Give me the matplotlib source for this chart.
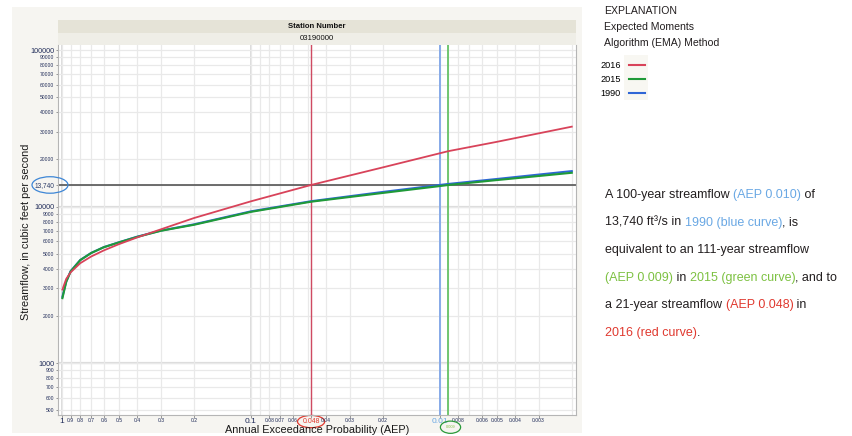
import matplotlib
matplotlib.use("Agg")
import matplotlib.pyplot as plt
from matplotlib.patches import Rectangle, Ellipse
from matplotlib.lines import Line2D
from matplotlib.transforms import IdentityTransform

# ---------------- data ----------------
aep = [0.995, 0.95, 0.9, 0.8, 0.7, 0.6, 0.5, 0.4, 0.3, 0.2, 0.1, 0.048, 0.02, 0.01, 0.009, 0.005, 0.002]
q_2016 = [2950, 3450, 3800, 4350, 4800, 5250, 5750, 6350, 7150, 8450, 10800, 13740, 17800, 21900, 22600, 25900, 32400]
q_2015 = [2600, 3300, 3850, 4550, 5050, 5500, 5900, 6400, 7000, 7650, 9250, 10740, 12220, 13520, 13740, 14760, 16440]
q_1990 = [2650, 3320, 3870, 4560, 5060, 5510, 5910, 6420, 7020, 7700, 9320, 10820, 12400, 13740, 13950, 15000, 16850]

q100 = 13740
aep_marks = {"2016": 0.048, "1990": 0.010, "2015": 0.009}

series_names = ["2016", "2015", "1990"]

y_ticks = [500, 600, 700, 800, 900, 1000, 2000, 3000, 4000, 5000, 6000, 7000, 8000, 9000,
           10000, 13740, 20000, 30000, 40000, 50000, 60000, 70000, 80000, 90000, 100000]
y_labels = ["500", "600", "700", "800", "900", "1000", "2000", "3000", "4000", "5000", "6000",
            "7000", "8000", "9000", "10000", "13,740", "20000", "30000", "40000", "50000", "60000",
            "70000", "80000", "90000", "100000"]
y_big = ["1000", "10000", "100000"]

x_ticks = [1, 0.9, 0.8, 0.7, 0.6, 0.5, 0.4, 0.3, 0.2, 0.1, 0.08, 0.07, 0.06, 0.048, 0.04,
           0.03, 0.02, 0.01, 0.008, 0.006, 0.005, 0.004, 0.003]
x_labels = ["1", "0.9", "0.8", "0.7", "0.6", "0.5", "0.4", "0.3", "0.2", "0.1", "0.08", "0.07",
            "0.06", "0.048", "0.04", "0.03", "0.02", "0.01", "0.008", "0.006", "0.005", "0.004", "0.003"]
x_minor_grid = [0.09, 0.05, 0.009, 0.007, 0.002]

# ---------------- style ----------------
W, H = 852, 436
RED, GREEN, BLUE = "#d8435a", "#1f9a38", "#2f66d6"
RED_V, BLUE_V, GREEN_V = "#cf4a62", "#7fa6ea", "#66c266"
TXT_BLUE, TXT_GREEN, TXT_RED, TXT_K = "#6aa8e4", "#7dc142", "#e0392f", "#231f20"
NAVY = "#1f2b58"
FONT = ["Liberation Sans", "DejaVu Sans"]

plt.rcParams["font.family"] = FONT

fig = plt.figure(figsize=(W / 100, H / 100), dpi=100)
fig.patch.set_facecolor("white")


def fx(px):
    return px / W


def fy(py):
    return 1 - py / H


# gray panel behind the chart
fig.patches.append(Rectangle((fx(12), fy(433)), fx(582) - fx(12), fy(7) - fy(433),
                             transform=fig.transFigure, fc="#f6f5f1", ec="none", zorder=-10))
# header bands
L, R, T, B = 58, 576, 45, 415
fig.patches.append(Rectangle((fx(L), fy(33)), fx(R) - fx(L), fy(20) - fy(33),
                             transform=fig.transFigure, fc="#e5e3d7", ec="none", zorder=-5))
fig.patches.append(Rectangle((fx(L), fy(T)), fx(R) - fx(L), fy(33) - fy(T),
                             transform=fig.transFigure, fc="#efeee7", ec="none", zorder=-5))
fig.text(fx(317), fy(26.5), "Station Number", ha="center", va="center", fontsize=5.6,
         fontweight="bold", color="#111111")
fig.text(fx(317), fy(39), "03190000", ha="center", va="center", fontsize=5.6, color="#111111")

ax = fig.add_axes([fx(L), fy(B), fx(R) - fx(L), fy(T) - fy(B)])
ax.set_zorder(1)
ax.set_facecolor("white")
ax.set_xscale("log")
ax.set_yscale("log")
ax.set_xlim(1.05, 0.0019)
ax.set_ylim(466, 107700)

# grid
ax.set_xticks(x_ticks, x_labels)
ax.set_xticks(x_minor_grid, minor=True)
ax.set_yticks(y_ticks, y_labels)
ax.set_yticks([], minor=True)
ax.xaxis.set_minor_formatter(matplotlib.ticker.NullFormatter())
ax.grid(True, which="major", color="#e9e9e9", lw=0.9, zorder=0)
ax.grid(True, which="minor", axis="x", color="#e9e9e9", lw=0.9, zorder=0)
for v in [1, 0.1, 0.01]:
    ax.axvline(v, color="#dcdcdc", lw=1.4, zorder=0.5)
for v in [1000, 10000]:
    ax.axhline(v, color="#dcdcdc", lw=1.6, zorder=0.5)

ax.tick_params(axis="both", which="both", length=1.8, width=0.6, color="#888888",
               labelcolor=NAVY, pad=1.0)
ax.tick_params(axis="x", which="major", pad=0.4)
ax.tick_params(axis="x", which="minor", length=0)
for sp in ax.spines.values():
    sp.set_color("#b5b5b5")
    sp.set_linewidth(0.8)
ax.spines["top"].set_visible(False)

for lab in ax.get_yticklabels():
    if lab.get_text() in y_big:
        lab.set_fontsize(5.2)
    else:
        lab.set_fontsize(3.6)
    if lab.get_text() == "13,740":
        lab.set_fontsize(4.7)
        lab.set_color("#2b3a66")

for lab in ax.get_xticklabels():
    t = lab.get_text()
    if t in ("1", "0.1"):
        lab.set_fontsize(6.0)
    elif t == "0.01":
        lab.set_fontsize(6.0)
        lab.set_color(TXT_BLUE)
    elif t == "0.048":
        lab.set_fontsize(5.0)
        lab.set_color(TXT_RED)
        lab.set_bbox(dict(boxstyle="ellipse,pad=0.12", fc="none", ec=TXT_RED, lw=0.9))
    else:
        lab.set_fontsize(3.6)

# blue ellipse around the 13,740 tick label (straddles the axis as in the original)
px_y = ax.transData.transform((1.0, q100))[1]
px_l = ax.transAxes.transform((0, 0))[0]
fig.patches.append(Ellipse((px_l - 8, px_y), 36, 16.5, transform=IdentityTransform(),
                           fc="none", ec="#3d86d6", lw=0.9, zorder=5))

# green 0.009 label below the axis
ax.annotate("0.009", xy=(aep_marks["2015"], 0), xycoords=("data", "axes fraction"),
            xytext=(1.5, -8.8), textcoords="offset points", ha="center", va="center",
            fontsize=2.8, color=TXT_GREEN,
            bbox=dict(boxstyle="ellipse,pad=0.6", fc="none", ec="#2a9a3a", lw=0.9),
            annotation_clip=False)

# vertical marker lines and the 100-year flow line
ax.axvline(aep_marks["2016"], color=RED_V, lw=1.0, zorder=2)
ax.axvline(aep_marks["1990"], color=BLUE_V, lw=1.3, zorder=2)
ax.axvline(aep_marks["2015"], color=GREEN_V, lw=1.3, zorder=2)
ax.axhline(q100, color="#555555", lw=1.2, zorder=2)

# curves
l1990, = ax.plot(aep, q_1990, color=BLUE, lw=1.5, zorder=3, label="1990")
l2015, = ax.plot(aep, q_2015, color=GREEN, lw=1.5, zorder=4, label="2015")
l2016, = ax.plot(aep, q_2016, color=RED, lw=1.3, zorder=5, label="2016")

# axis labels
ax.set_ylabel("Streamflow, in cubic feet per second", fontsize=7.8, color="#1a1a1a")
ax.yaxis.set_label_coords((26 - L) / (R - L), (B - 232) / (B - T))
ax.yaxis.label.set_va("center")
ax.set_xlabel("Annual Exceedance Probability (AEP)", fontsize=7.8, color="#1a1a1a")
ax.xaxis.set_label_coords(0.5, (B - 429.5) / (B - T))
ax.xaxis.label.set_va("center")

# explanation
fig.text(fx(604), fy(10.5), "EXPLANATION", fontsize=7.6, color=TXT_K, va="center")
fig.text(fx(604), fy(26.5), "Expected Moments", fontsize=7.6, color=TXT_K, va="center")
fig.text(fx(604), fy(42.5), "Algorithm (EMA) Method", fontsize=7.6, color=TXT_K, va="center")

fig.patches.append(Rectangle((fx(624), fy(100)), fx(648) - fx(624), fy(55) - fy(100),
                             transform=fig.transFigure, fc="#f8f7f2", ec="none", zorder=-10))
handles = {"2016": l2016, "2015": l2015, "1990": l1990}
leg = fig.legend([Line2D([], [], color=handles[n].get_color(), lw=1.5) for n in series_names],
                 series_names, loc="upper left", bbox_to_anchor=(fx(594), fy(55)),
                 markerfirst=False, frameon=False, handlelength=1.75,
                 handletextpad=0.85, labelspacing=0.55, borderpad=0.2,
                 prop={"size": 6.6})

# paragraph with coloured runs
renderer = fig.canvas.get_renderer()
para_fs = 9.0


def text_width(s):
    t = fig.text(0, 0, s, fontsize=para_fs)
    w = t.get_window_extent(renderer).width
    t.remove()
    return w


lines = [
    [("A 100-year streamflow ", TXT_K), ("(AEP 0.010)", TXT_BLUE), (" of", TXT_K)],
    [("13,740 ft³/s in ", TXT_K), ("1990 (blue curve)", TXT_BLUE), (", is", TXT_K)],
    [("equivalent to an 111-year streamflow", TXT_K)],
    [("(AEP 0.009)", TXT_GREEN), (" in ", TXT_K), ("2015 (green curve)", TXT_GREEN), (", and to", TXT_K)],
    [("a 21-year streamflow ", TXT_K), ("(AEP 0.048)", TXT_RED), (" in", TXT_K)],
    [("2016 (red curve)", TXT_RED), (".", TXT_K)],
]
x0 = 605
y0 = 195
dy = 27.6
wx = text_width("x")
for i, runs in enumerate(lines):
    prefix = ""
    for s, c in runs:
        off = (text_width(prefix + "x") - wx) if prefix else 0
        fig.text(fx(x0 + off), fy(y0 + i * dy), s, fontsize=para_fs,
                 color=c, va="center")
        prefix += s

fig.savefig("out.png", dpi=100, facecolor="white")
